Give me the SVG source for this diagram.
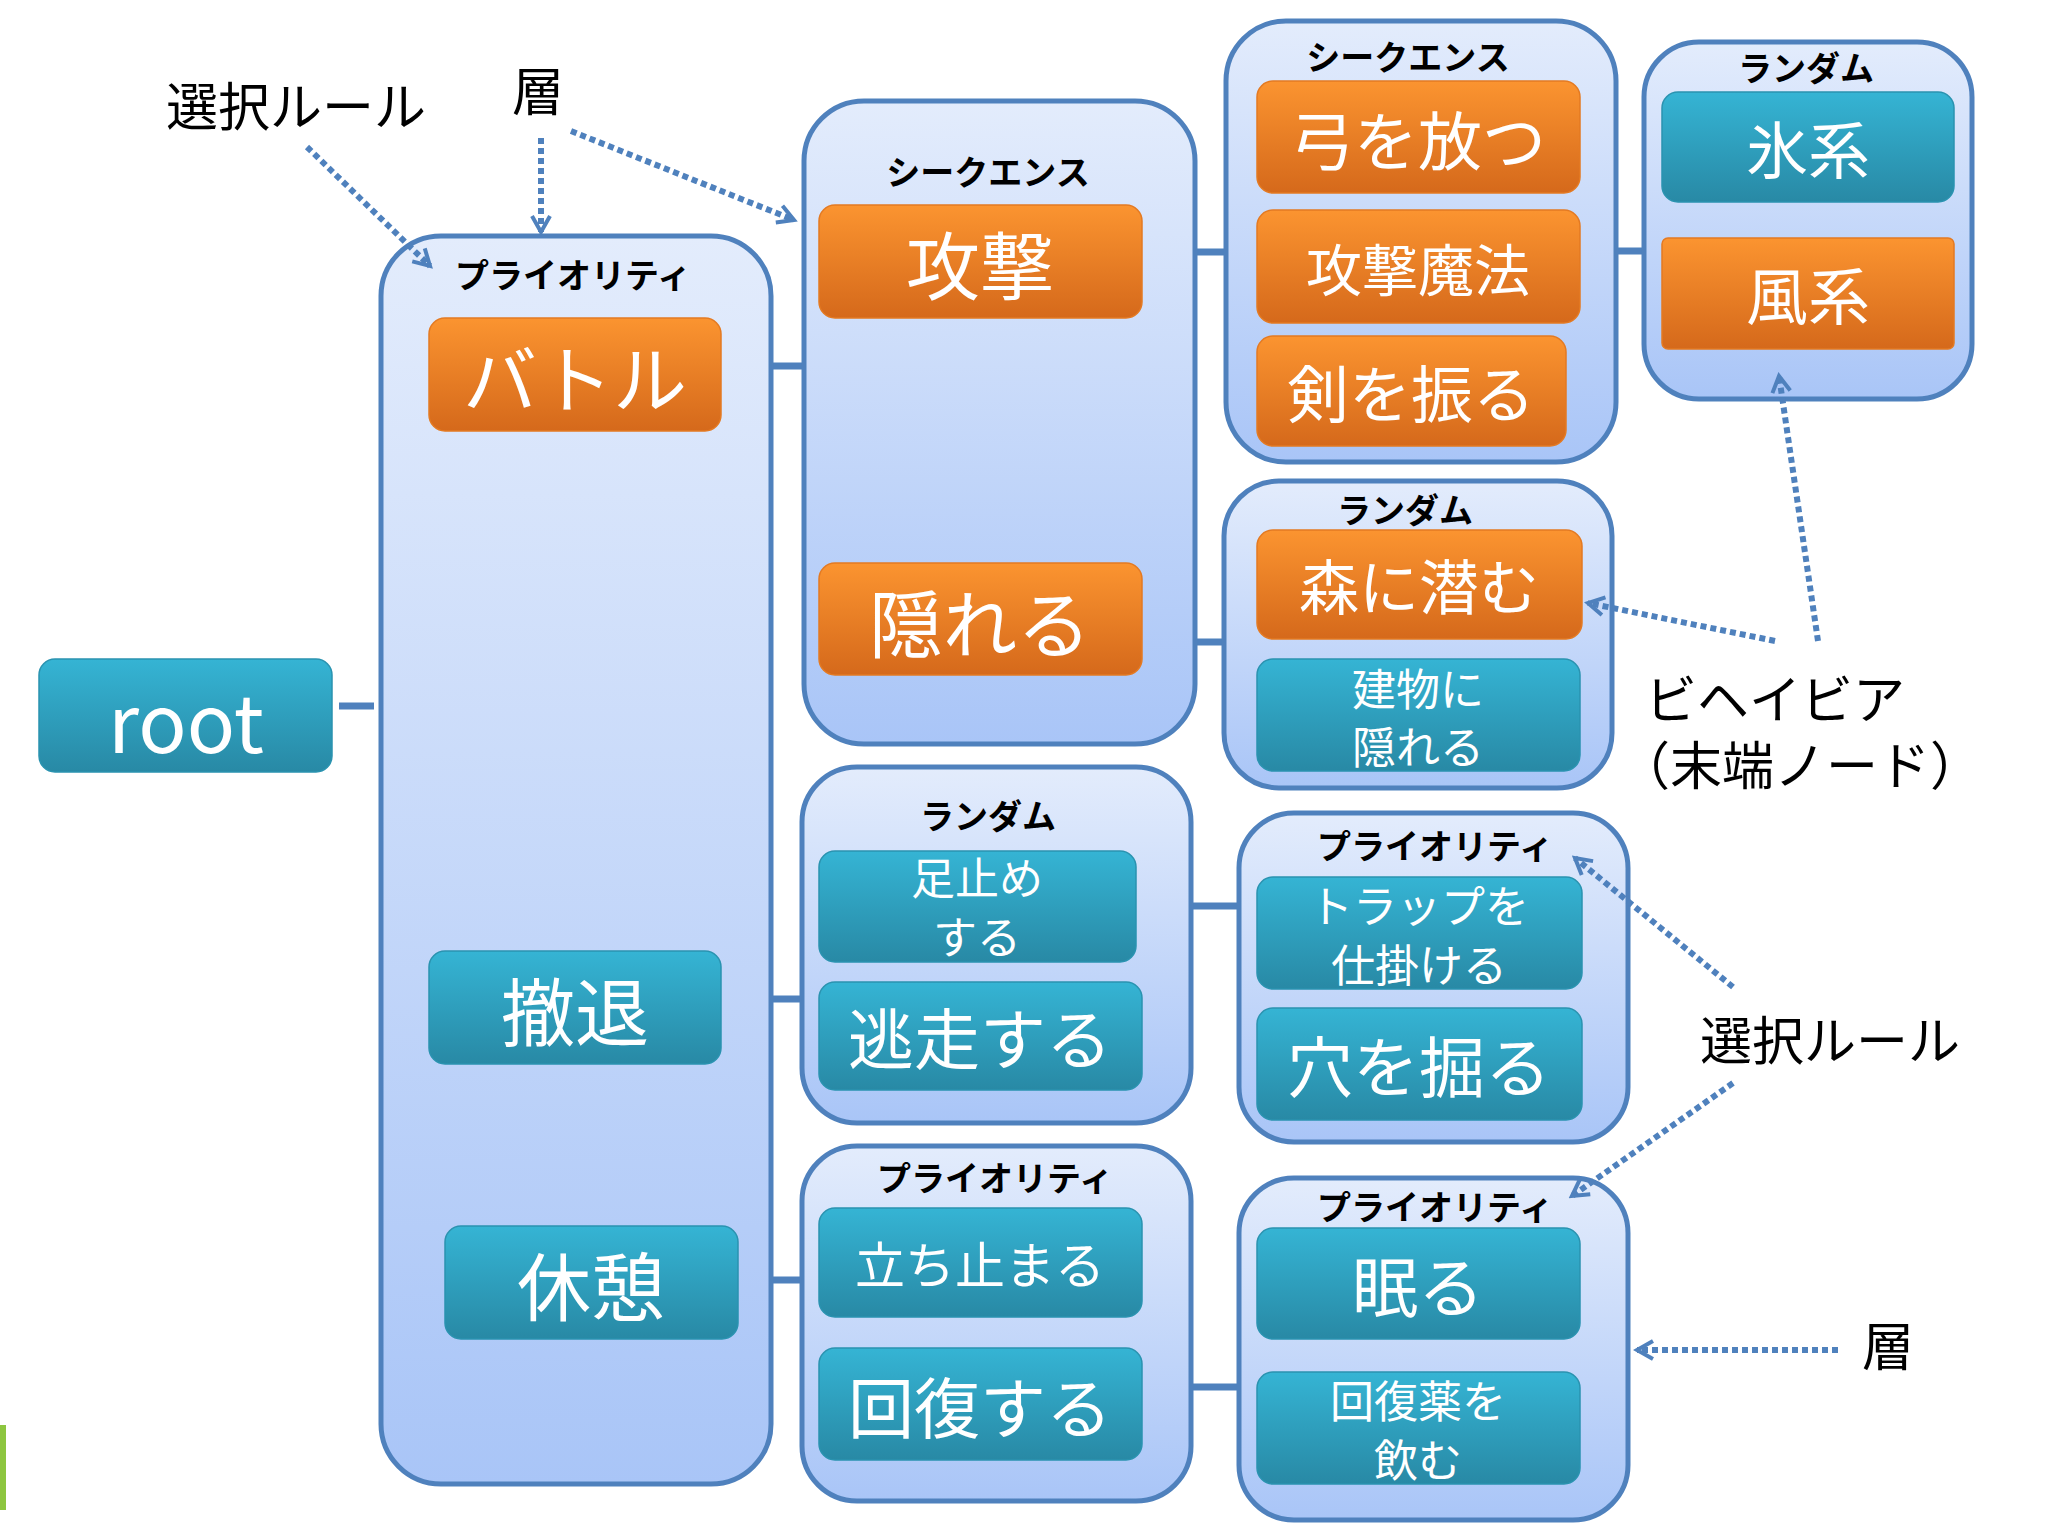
<svg xmlns="http://www.w3.org/2000/svg" width="2048" height="1536" viewBox="0 0 2048 1536">
<defs>
<linearGradient id="gc" x1="0" y1="0" x2="0" y2="1"><stop offset="0" stop-color="#e3ecfc"/><stop offset="1" stop-color="#a9c5f7"/></linearGradient>
<linearGradient id="go" x1="0" y1="0" x2="0" y2="1"><stop offset="0" stop-color="#fb9430"/><stop offset="1" stop-color="#d5691b"/></linearGradient>
<linearGradient id="gt" x1="0" y1="0" x2="0" y2="1"><stop offset="0" stop-color="#35b4d4"/><stop offset="1" stop-color="#2889a5"/></linearGradient>
<marker id="ah" viewBox="0 0 24 24" refX="20" refY="12" markerWidth="24" markerHeight="24" orient="auto" markerUnits="userSpaceOnUse"><path d="M4,3 L20,12 L4,21" fill="none" stroke="#4f81bd" stroke-width="4"/></marker>
</defs>
<style>
.c{fill:url(#gc);stroke:#4f81bd;stroke-width:5}
.o{fill:url(#go);stroke:#e47a22;stroke-width:1.5}
.t{fill:url(#gt);stroke:#2a93b0;stroke-width:1.5}
text{font-family:"Noto Sans CJK JP","Liberation Sans",sans-serif;text-anchor:middle;dominant-baseline:central}
.w{fill:#fff}
.lb{fill:#000;font-weight:bold;font-size:34px}
.an{fill:#000;font-size:52px}
.ln{stroke:#4f81bd;stroke-width:7;fill:none}
.dt{stroke:#4f81bd;stroke-width:6;fill:none;stroke-dasharray:6 4}
</style>
<rect x="0" y="1425" width="6" height="85" fill="#8dc63f"/>
<g id="connectors">
<line class="ln" x1="339" y1="706" x2="374" y2="706"/>
<line class="ln" x1="721" y1="366" x2="804" y2="366"/>
<line class="ln" x1="1142" y1="252" x2="1226" y2="252"/>
<line class="ln" x1="1580" y1="251" x2="1644" y2="251"/>
<line class="ln" x1="1142" y1="642" x2="1224" y2="642"/>
<line class="ln" x1="721" y1="999" x2="802" y2="999"/>
<line class="ln" x1="1136" y1="906" x2="1239" y2="906"/>
<line class="ln" x1="738" y1="1280" x2="802" y2="1280"/>
<line class="ln" x1="1142" y1="1387" x2="1239" y2="1387"/>
</g>
<g id="containers">
<g id="c1"><rect class="c" x="381" y="236" width="390" height="1248" rx="60"/><text class="lb" x="573" y="273">プライオリティ</text></g>
<g id="c2"><rect class="c" x="804" y="101" width="391" height="643" rx="60"/><text class="lb" x="988" y="170">シークエンス</text></g>
<g id="c3"><rect class="c" x="1226" y="21" width="390" height="441" rx="60"/><text class="lb" x="1408" y="55">シークエンス</text></g>
<g id="c4"><rect class="c" x="1644" y="42" width="328" height="357" rx="55"/><text class="lb" x="1806" y="66">ランダム</text></g>
<g id="c5"><rect class="c" x="1224" y="481" width="388" height="307" rx="55"/><text class="lb" x="1405" y="508">ランダム</text></g>
<g id="c6"><rect class="c" x="802" y="767" width="389" height="356" rx="55"/><text class="lb" x="988" y="814">ランダム</text></g>
<g id="c7"><rect class="c" x="1239" y="813" width="389" height="329" rx="55"/><text class="lb" x="1435" y="844">プライオリティ</text></g>
<g id="c8"><rect class="c" x="802" y="1146" width="389" height="355" rx="55"/><text class="lb" x="995" y="1176">プライオリティ</text></g>
<g id="c9"><rect class="c" x="1239" y="1178" width="389" height="342" rx="55"/><text class="lb" x="1435" y="1205">プライオリティ</text></g>
</g>
<g id="root"><rect class="t" x="39" y="659" width="293" height="113" rx="16"/><text class="w" x="186" y="718" font-size="80">root</text></g>
<g id="battle"><rect class="o" x="429" y="318" width="292" height="113" rx="16"/><text class="w" x="575" y="374" font-size="74">バトル</text></g>
<g id="retreat"><rect class="t" x="429" y="951" width="292" height="113" rx="16"/><text class="w" x="575" y="1007" font-size="74">撤退</text></g>
<g id="rest"><rect class="t" x="445" y="1226" width="293" height="113" rx="16"/><text class="w" x="591" y="1282" font-size="74">休憩</text></g>
<g id="attack"><rect class="o" x="819" y="205" width="323" height="113" rx="16"/><text class="w" x="980" y="261" font-size="74">攻撃</text></g>
<g id="hide"><rect class="o" x="819" y="563" width="323" height="112" rx="16"/><text class="w" x="980" y="619" font-size="74">隠れる</text></g>
<g id="bow"><rect class="o" x="1257" y="81" width="323" height="112" rx="16"/><text class="w" x="1418" y="137" font-size="64">弓を放つ</text></g>
<g id="magic"><rect class="o" x="1257" y="210" width="323" height="113" rx="16"/><text class="w" x="1418" y="266" font-size="56">攻撃魔法</text></g>
<g id="sword"><rect class="o" x="1257" y="336" width="309" height="110" rx="16"/><text class="w" x="1411" y="391" font-size="62">剣を振る</text></g>
<g id="ice"><rect class="t" x="1662" y="92" width="292" height="110" rx="16"/><text class="w" x="1808" y="147" font-size="62">氷系</text></g>
<g id="wind"><rect class="o" x="1662" y="238" width="292" height="111" rx="6"/><text class="w" x="1808" y="293" font-size="62">風系</text></g>
<g id="forest"><rect class="o" x="1257" y="530" width="325" height="109" rx="16"/><text class="w" x="1419" y="583" font-size="60">森に潜む</text></g>
<g id="building"><rect class="t" x="1257" y="659" width="323" height="112" rx="16"/><text class="w" x="1418" y="687" font-size="44">建物に</text><text class="w" x="1418" y="745" font-size="44">隠れる</text></g>
<g id="stall"><rect class="t" x="819" y="851" width="317" height="111" rx="16"/><text class="w" x="977" y="876" font-size="44">足止め</text><text class="w" x="977" y="935" font-size="44">する</text></g>
<g id="flee"><rect class="t" x="819" y="982" width="323" height="108" rx="16"/><text class="w" x="980" y="1035" font-size="66">逃走する</text></g>
<g id="trap"><rect class="t" x="1257" y="877" width="325" height="112" rx="16"/><text class="w" x="1419" y="904" font-size="44">トラップを</text><text class="w" x="1419" y="963" font-size="44">仕掛ける</text></g>
<g id="dig"><rect class="t" x="1257" y="1008" width="325" height="112" rx="16"/><text class="w" x="1419" y="1063" font-size="66">穴を掘る</text></g>
<g id="stop"><rect class="t" x="819" y="1208" width="323" height="109" rx="16"/><text class="w" x="980" y="1262" font-size="50">立ち止まる</text></g>
<g id="recover"><rect class="t" x="819" y="1348" width="323" height="112" rx="16"/><text class="w" x="980" y="1404" font-size="66">回復する</text></g>
<g id="sleep"><rect class="t" x="1257" y="1228" width="323" height="111" rx="16"/><text class="w" x="1418" y="1283" font-size="66">眠る</text></g>
<g id="potion"><rect class="t" x="1257" y="1372" width="323" height="112" rx="16"/><text class="w" x="1418" y="1399" font-size="44">回復薬を</text><text class="w" x="1418" y="1458" font-size="44">飲む</text></g>
<g id="annotations">
<text class="an" x="296" y="103">選択ルール</text>
<text class="an" x="538" y="88">層</text>
<text class="an" x="1775" y="696">ビヘイビア</text>
<text class="an" x="1800" y="762">（末端ノード）</text>
<text class="an" x="1830" y="1037">選択ルール</text>
<text class="an" x="1888" y="1343">層</text>
<line class="dt" x1="307" y1="147" x2="430" y2="266" marker-end="url(#ah)"/>
<line class="dt" x1="541" y1="138" x2="541" y2="232" marker-end="url(#ah)"/>
<line class="dt" x1="571" y1="131" x2="794" y2="220" marker-end="url(#ah)"/>
<line class="dt" x1="1818" y1="641" x2="1779" y2="376" marker-end="url(#ah)"/>
<line class="dt" x1="1775" y1="641" x2="1588" y2="603" marker-end="url(#ah)"/>
<line class="dt" x1="1733" y1="987" x2="1575" y2="858" marker-end="url(#ah)"/>
<line class="dt" x1="1733" y1="1083" x2="1572" y2="1196" marker-end="url(#ah)"/>
<line class="dt" x1="1838" y1="1350" x2="1637" y2="1350" marker-end="url(#ah)"/>
</g>
</svg>
